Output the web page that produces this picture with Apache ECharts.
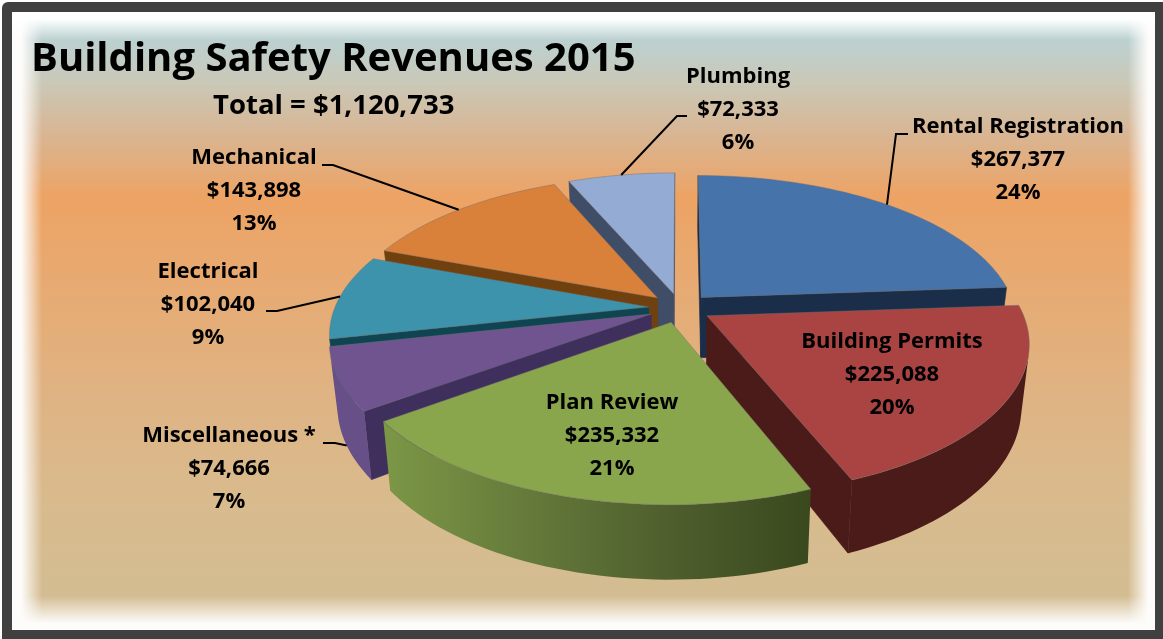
<!DOCTYPE html>
<html>
<head>
<meta charset="utf-8">
<title>Building Safety Revenues 2015</title>
<style>
  html, body { margin: 0; padding: 0; background: #fff; }
  #chart-container { width: 1163px; height: 639px; }
</style>
<script src="https://cdn.jsdelivr.net/npm/echarts@6/dist/echarts.min.js"></script>
</head>
<body>
<div id="chart-container"></div>
<script>
// clockwise from 12 o'clock
var categories = ["Rental Registration", "Building Permits", "Plan Review", "Miscellaneous *", "Electrical", "Mechanical", "Plumbing"];
var revenues = [267377, 225088, 235332, 74666, 102040, 143898, 72333];
var percents = [24, 20, 21, 7, 9, 13, 6];
var chartTitle = "Building Safety Revenues 2015";
var chartTotal = "Total = $1,120,733";

var topColors = ["#4673a9", "#a94443", "#8aa64d", "#6f5490", "#3d93ac", "#d9803b", "#94abd4"];
var wallColors = ["#1a2e4a", "#4a1b18", "#3f5020", "#3e2f5c", "#0f4552", "#70400f", "#3f4e66"];
var FONT = "Open Sans";

// label centres and leader elbows, in page pixels
var labelPos = [[1018, 160], [892, 375], [612, 436], [229, 469], [208, 305], [254, 191], [738, 110]];
var leaders = [
  [[908, 134], [896, 134]],
  null,
  null,
  [[323, 443], [335, 443]],
  [[266, 311], [277, 311]],
  [[322, 165], [333, 165]],
  [[687, 116], [677, 116]]
];

// tilted pie: perspective projection of a unit disc
var cx = 680, cy = 308, rx = 314, ry = 146, persp = 0.17;
var explode = 0.1, depth = 61, bottomShrink = 0.977;

function project(wx, wy, low) {
  var w = 1 / (1 - persp * wy);
  var sx = rx * wx * w;
  var sy = ry * wy * w;
  if (low) {
    return [cx + sx * bottomShrink, cy + sy + depth * w];
  }
  return [cx + sx, cy + sy];
}

var total = revenues.reduce(function (a, b) { return a + b; }, 0);

function sliceAngles(i) {
  var before = 0;
  for (var k = 0; k < i; k++) before += revenues[k];
  var a0 = before / total * Math.PI * 2;
  var a1 = (before + revenues[i]) / total * Math.PI * 2;
  return [a0, a1, (a0 + a1) / 2];
}

function rimPoint(i, a, low) {
  var m = sliceAngles(i)[2];
  return project(explode * Math.sin(m) + Math.sin(a), -explode * Math.cos(m) - Math.cos(a), low);
}

function apexPoint(i, low) {
  var m = sliceAngles(i)[2];
  return project(explode * Math.sin(m), -explode * Math.cos(m), low);
}

function faces(a, b, c, d) {
  // negative area on screen means the wall looks at the viewer
  var p = [a, b, c, d], s = 0;
  for (var i = 0; i < 4; i++) {
    var q = p[(i + 1) % 4];
    s += p[i][0] * q[1] - q[0] * p[i][1];
  }
  return s < 0;
}

function wallFill(i) {
  if (i === 2) {
    return new echarts.graphic.LinearGradient(0, 0, 1, 0, [
      { offset: 0, color: "#7c9746" },
      { offset: 0.35, color: "#64793a" },
      { offset: 0.7, color: "#4c5c2c" },
      { offset: 1, color: "#3a491d" }
    ]);
  }
  if (i === 3) return "#674f88";
  return wallColors[i];
}

function renderSlice(params, api) {
  var i = api.value(0);
  var ang = sliceAngles(i);
  var order = Math.round((-Math.cos(ang[2]) + 1) * 40);
  var kids = [];
  var n = Math.max(6, Math.ceil((ang[1] - ang[0]) / 0.03));
  var topPts = [apexPoint(i, false)];
  var lowPts = [apexPoint(i, true)];
  for (var k = 0; k <= n; k++) {
    var a = ang[0] + (ang[1] - ang[0]) * k / n;
    topPts.push(rimPoint(i, a, false));
    lowPts.push(rimPoint(i, a, true));
  }

  // straight cut walls
  var last = topPts.length - 1;
  [[0, 1], [last, 0]].forEach(function (e) {
    if (faces(topPts[e[0]], topPts[e[1]], lowPts[e[1]], lowPts[e[0]])) {
      kids.push({
        type: "polygon",
        z2: order * 10,
        shape: { points: [topPts[e[0]], topPts[e[1]], lowPts[e[1]], lowPts[e[0]]] },
        style: { fill: wallColors[i], stroke: wallColors[i], lineWidth: 0.6 }
      });
    }
  });

  // outer rim, only the part turned to the viewer
  var run = [];
  function flush() {
    if (run.length > 1) {
      var pts = run.map(function (j) { return topPts[j]; })
        .concat(run.slice().reverse().map(function (j) { return lowPts[j]; }));
      kids.push({
        type: "polygon",
        z2: order * 10 + 1,
        shape: { points: pts },
        style: { fill: wallFill(i) }
      });
    }
    run = [];
  }
  for (var j = 1; j < last; j++) {
    if (faces(topPts[j], topPts[j + 1], lowPts[j + 1], lowPts[j])) {
      if (!run.length) run.push(j);
      run.push(j + 1);
    } else {
      flush();
    }
  }
  flush();

  kids.push({
    type: "polygon",
    z2: order * 10 + 2,
    shape: { points: topPts },
    style: { fill: topColors[i], stroke: "rgba(110,110,110,0.55)", lineWidth: 0.8 }
  });

  // leader from the label to the middle of the slice's rim
  if (leaders[i]) {
    var end = rimPoint(i, ang[2], i === 3);
    kids.push({
      type: "polyline",
      z2: 2000,
      shape: { points: leaders[i].concat([end]) },
      style: { stroke: "#000", lineWidth: 2, fill: null }
    });
  }

  kids.push({
    type: "text",
    z2: 2001,
    style: {
      x: labelPos[i][0],
      y: labelPos[i][1],
      text: categories[i] + "\n$" + revenues[i].toLocaleString("en-US") + "\n" + percents[i] + "%",
      fill: "#000",
      align: "center",
      verticalAlign: "middle",
      fontFamily: FONT,
      fontWeight: "bold",
      fontSize: 22,
      lineHeight: 33
    }
  });

  return { type: "group", children: kids };
}

var dom = document.getElementById("chart-container");
var myChart = echarts.init(dom, null, { renderer: "canvas" });

var option = {
  animation: false,
  backgroundColor: "#fff",
  title: [
    {
      text: chartTitle,
      left: 26,
      top: 35,
      textStyle: { fontFamily: FONT, fontWeight: "bold", fontSize: 40, color: "#000" }
    },
    {
      text: chartTotal,
      left: 208,
      top: 87,
      textStyle: { fontFamily: FONT, fontWeight: "bold", fontSize: 27.5, color: "#000" }
    }
  ],
  graphic: [
    { type: "rect", z: -10, shape: { x: 2, y: 2, width: 1170, height: 650, r: 6 }, style: { fill: "#404040" } },
    { type: "rect", z: -9, shape: { x: 12, y: 12, width: 1143, height: 618 }, style: {
        fill: new echarts.graphic.LinearGradient(0, 0, 0, 1, [
          { offset: 0, color: "#b6d2d4" },
          { offset: 0.05, color: "#bcd0cf" },
          { offset: 0.11, color: "#c9c9b9" },
          { offset: 0.2, color: "#d9b592" },
          { offset: 0.3, color: "#eda364" },
          { offset: 0.42, color: "#e8a970" },
          { offset: 0.62, color: "#dfb383" },
          { offset: 0.8, color: "#d8bb8e" },
          { offset: 1, color: "#d2bd93" }
        ])
      } },
    // soft white edges
    { type: "rect", z: -8, shape: { x: 12, y: 12, width: 30, height: 618 }, style: {
        fill: new echarts.graphic.LinearGradient(0, 0, 1, 0, [
          { offset: 0.3, color: "rgba(253,252,250,1)" }, { offset: 1, color: "rgba(253,252,250,0)" }
        ]) } },
    { type: "rect", z: -8, shape: { x: 1128, y: 12, width: 27, height: 618 }, style: {
        fill: new echarts.graphic.LinearGradient(0, 0, 1, 0, [
          { offset: 0, color: "rgba(253,252,250,0)" }, { offset: 0.75, color: "rgba(253,252,250,1)" }
        ]) } },
    { type: "rect", z: -8, shape: { x: 12, y: 12, width: 1143, height: 28 }, style: {
        fill: new echarts.graphic.LinearGradient(0, 0, 0, 1, [
          { offset: 0.25, color: "rgba(255,255,255,1)" }, { offset: 1, color: "rgba(255,255,255,0)" }
        ]) } },
    { type: "rect", z: -8, shape: { x: 12, y: 596, width: 1143, height: 34 }, style: {
        fill: new echarts.graphic.LinearGradient(0, 0, 0, 1, [
          { offset: 0, color: "rgba(253,252,250,0)" }, { offset: 0.8, color: "rgba(253,252,250,1)" }
        ]) } }
  ],
  series: [
    {
      type: "custom",
      coordinateSystem: "none",
      silent: true,
      renderItem: renderSlice,
      data: categories.map(function (c, i) { return [i, revenues[i]]; })
    }
  ]
};

myChart.setOption(option);
window.addEventListener("resize", myChart.resize);
</script>
</body>
</html>
